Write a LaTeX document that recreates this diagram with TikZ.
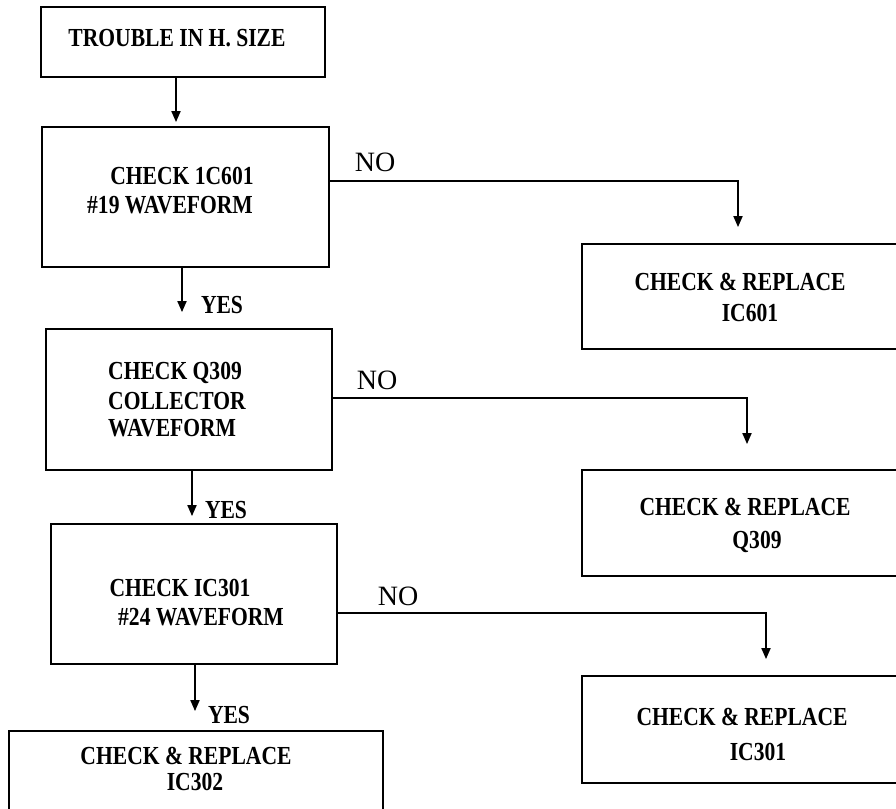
\documentclass[tikz,border=0pt]{standalone}
\usepackage{fontspec}
\setmainfont{Liberation Serif}
\newfontfamily\boxfont{Liberation Serif}[FakeStretch=0.83]
\usepackage{tikz}
\usetikzlibrary{arrows.meta,positioning}

\begin{document}
\begin{tikzpicture}[x=1pt, y=-1pt,
	box/.style={draw, line width=1.8pt, rectangle, inner sep=0pt},
	txt/.style={font=\boxfont\bfseries\fontsize{26}{30}\selectfont, inner sep=0pt},
	notxt/.style={font=\fontsize{28}{32}\selectfont, inner sep=0pt},
	arr/.style={line width=1.8pt, -{Triangle[length=11pt,width=9pt]}}]
	\useasboundingbox (0,0) rectangle (896,808);

	% left column
	\node[box, minimum width=284, minimum height=70] (b1) at (183,42) {};
	\node[box, minimum width=287, minimum height=140] (b2) at (185.5,197) {};
	\node[box, minimum width=286, minimum height=141] (b3) at (189,399.5) {};
	\node[box, minimum width=286, minimum height=140] (b4) at (194,594) {};
	\node[box, minimum width=374, minimum height=129] (b5) at (196,795.5) {};

	% right column
	\node[box, minimum width=318, minimum height=105] (r1) at (741,296.5) {};
	\node[box, minimum width=318, minimum height=106] (r2) at (741,523) {};
	\node[box, minimum width=318, minimum height=107] (r3) at (741,729.5) {};

	% texts
	\node[txt] (t1) at (177,38) {TROUBLE IN H. SIZE};
	\node[txt] (t2a) at (182,176) {CHECK 1C601};
	\node[txt] (t2b) at (170,205) {\#19 WAVEFORM};
	\node[txt, anchor=west] (t3a) at (108,373) {CHECK Q309};
	\node[txt, anchor=west] (t3b) at (108,401) {COLLECTOR};
	\node[txt, anchor=west] (t3c) at (108,428) {WAVEFORM};
	\node[txt] (t4a) at (180,588) {CHECK IC301};
	\node[txt] (t4b) at (201,617) {\#24 WAVEFORM};
	\node[txt] (t5a) at (186,756) {CHECK \& REPLACE};
	\node[txt] (t5b) at (195,782) {IC302};

	\node[txt] (u1a) at (740,282) {CHECK \& REPLACE};
	\node[txt] (u1b) at (750,313) {IC601};
	\node[txt] (u2a) at (745,507) {CHECK \& REPLACE};
	\node[txt] (u2b) at (757,542) {Q309};
	\node[txt] (u3a) at (742,717) {CHECK \& REPLACE};
	\node[txt] (u3b) at (758,752) {IC301};

	% yes arrows
	\draw[arr, shorten >=4pt] (b1.south -| 176,0) -- (b2.north -| 176,0);
	\draw[arr, shorten >=16pt] (b2.south -| 182,0) -- (b3.north -| 182,0);
	\draw[arr, shorten >=7pt] (b3.south -| 192,0) -- (b4.north -| 192,0);
	\draw[arr, shorten >=19pt] (b4.south -| 195,0) -- (b5.north -| 195,0);
	\node[txt] (y1) at (222,305) {YES};
	\node[txt] (y2) at (226,510) {YES};
	\node[txt] (y3) at (229,715) {YES};

	% no arrows
	\draw[arr, shorten >=16pt] (b2.east |- 0,181) -| (r1.north -| 738,0);
	\draw[arr, shorten >=25pt] (b3.east |- 0,398) -| (r2.north -| 747,0);
	\draw[arr, shorten >=16pt] (b4.east |- 0,613) -| (r3.north -| 766,0);
	\node[notxt] (n1) at (375,162) {NO};
	\node[notxt] (n2) at (377,380) {NO};
	\node[notxt] (n3) at (398,596) {NO};
\end{tikzpicture}
\end{document}
